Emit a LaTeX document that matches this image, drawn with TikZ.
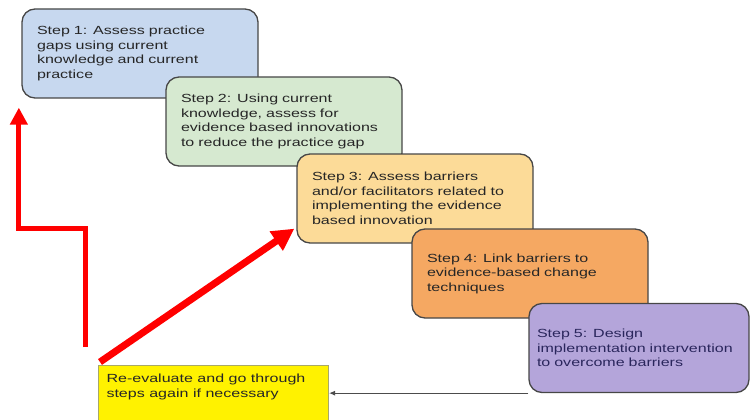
\documentclass[tikz,border=0pt]{standalone}
\usepackage{fontspec}
\setmainfont[FakeStretch=1.36]{Liberation Sans} % 参考图的字比较宽
\usetikzlibrary{arrows.meta,  % 箭头的library
  positioning}                % 相对地放置节点

\definecolor{stepone}{RGB}{199,216,239}
\definecolor{steptwo}{RGB}{214,233,208}
\definecolor{stepthree}{RGB}{252,219,152}
\definecolor{stepfour}{RGB}{245,168,98}
\definecolor{stepfive}{RGB}{180,165,218}
\definecolor{redoline}{RGB}{168,168,104}
\definecolor{fivetext}{RGB}{42,38,92}

\begin{document}
\begin{tikzpicture}[x=1pt,y=1pt,on grid,
  % 一个单位 = 参考图里的一个像素
  every node/.style={font=\fontsize{11.8}{14.5}\selectfont},
  % 五个步骤的圆角框
  stepbox/.style={rectangle,rounded corners=13pt,draw=black!72,line width=1.3pt,
    minimum width=236pt,minimum height=89pt,text width=206pt,inner xsep=15pt,
    align=left,text=black!85},
  % 黄色的框
  redobox/.style={rectangle,draw=redoline,line width=1pt,fill=yellow,
    inner xsep=8pt,inner ysep=8pt,text=black!85,
    font=\fontsize{11.8}{15.6}\selectfont},
  {loop arrow}/.style={red,line width=5pt,-{Triangle[length=17pt,width=17pt]}},
  {jump arrow}/.style={red,line width=7pt,-{Triangle[length=22pt,width=22pt]}},
  {back arrow}/.style={draw=black!70,line width=1pt,-{Latex[length=6pt,width=5pt]}}]

  \useasboundingbox (0,0) rectangle (750,-420);

  \node [stepbox,fill=stepone] (s1) at (140,-53.5)
    {Step 1: Assess practice\\ gaps using current\\ knowledge and current\\ practice};
  \node [stepbox,fill=steptwo] (s2) [below right=68pt and 144pt of s1]
    {Step 2: Using current\\ knowledge, assess for\\ evidence based innovations\\ to reduce the practice gap};
  \node [stepbox,fill=stepthree] (s3) [below right=77pt and 131pt of s2]
    {Step 3: Assess barriers\\ and/or facilitators related to\\ implementing the evidence\\ based innovation};
  \node [stepbox,fill=stepfour] (s4) [below right=75pt and 115pt of s3]
    {Step 4: Link barriers to\\ evidence-based change\\ techniques};
  \node [stepbox,fill=stepfive,minimum width=220pt,text width=204pt,inner xsep=8pt,
    text=fivetext] (s5) [below right=74.5pt and 109pt of s4]
    {Step 5: Design\\ implementation intervention\\ to overcome barriers};

  \node [redobox,anchor=north west] (redo) at (98,-365)
    {\parbox[t][58pt][t]{214pt}{Re-evaluate and go through\\ steps again if necessary}};

  % 箭头
  \draw [back arrow] (s5.south west) -- (s5.south west -| redo.east);

  \draw [jump arrow] ([shift={(2pt,3pt)}]redo.north west)
    -- ([shift={(-2pt,15pt)}]s3.south west);

  \draw [loop arrow] ([shift={(-12.5pt,18pt)}]redo.north west)
    -- ++(0,119) -| ([shift={(-2.5pt,-9pt)}]s1.south west);

\end{tikzpicture}
\end{document}
